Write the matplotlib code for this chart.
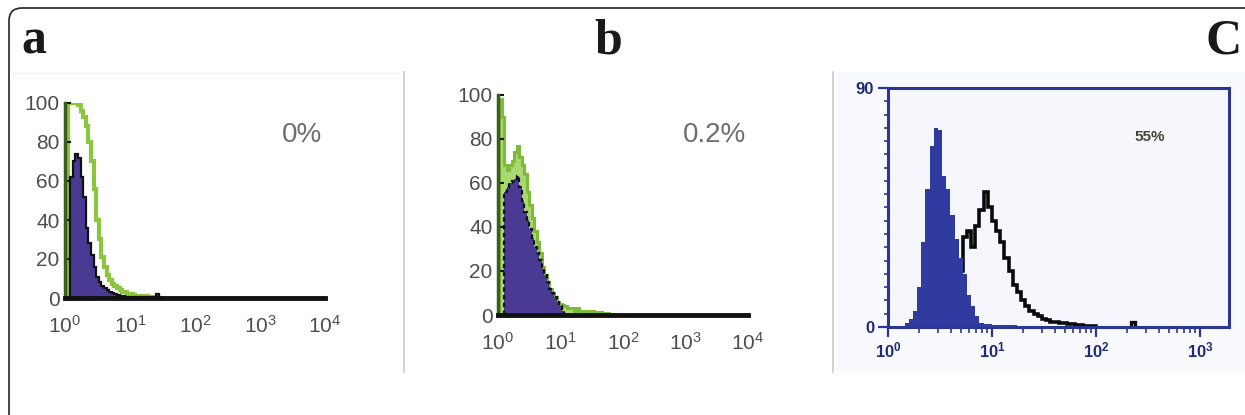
import numpy as np
import matplotlib
matplotlib.use('Agg')
import matplotlib.pyplot as plt
from matplotlib.patches import FancyBboxPatch, Rectangle
from matplotlib.lines import Line2D
from matplotlib.transforms import IdentityTransform
from matplotlib.ticker import FixedLocator, LogLocator, NullFormatter

plt.rcParams['font.family'] = ['Liberation Sans', 'DejaVu Sans']
plt.rcParams['mathtext.fontset'] = 'custom'
plt.rcParams['mathtext.rm'] = 'Liberation Sans'
plt.rcParams['mathtext.bf'] = 'Liberation Sans:bold'

# histogram bins are BW decades wide, each series starts at its own log10 position
BW = 0.04

# panel a (0%)
a_green_start = 0.04
a_green = [100, 100, 100, 100, 99, 96, 93, 88, 80, 70, 56, 40, 30, 21, 16, 12, 9,
           7, 6, 5, 4, 3, 3, 2, 2, 1.5, 1, 1, 1, 0.8, 0.8, 0.6, 0.6, 0.5]
a_purple_start = 0.08
a_purple = [62, 70, 74, 72, 62, 52, 36, 28, 22, 16, 11, 8, 6, 5, 4, 3, 2.5, 2,
            1.5, 1, 1, 0.5, 0.5, 0.3, 0.3, 0.3, 0.3, 0.3, 0.3, 0.3, 0.3, 0.3,
            0.3, 2, 0.3]

# panel b (0.2%)
b_green_start = 0.02
b_green = [98, 90, 68, 66, 68, 70, 74, 77, 72, 68, 64, 56, 50, 44, 38, 33, 28,
           22, 18, 15, 12, 10, 8, 6, 5, 4.5, 4, 3, 3, 3, 2, 3, 2, 2, 2, 2, 1.5,
           2, 1.5, 1, 1.5, 1, 1, 1, 0.5]
b_purple_start = 0.10
b_purple = [56, 58, 60, 61, 62, 63, 58, 52, 47, 43, 39, 35, 31, 28, 25, 21, 18,
            15, 12, 10, 8, 6, 4, 2]

# panel c (55%)
c_blue_start = 0.12
c_blue = [0.5, 1.5, 3, 6, 15, 32, 52, 68, 75, 74, 57, 52, 42, 33, 26, 20, 12, 8,
          4, 1.5, 1, 1, 0.8, 0.8, 0.8, 0.6, 0.6, 0.6, 0.5, 0.5]
c_black_start = 0.40
c_black = [1, 2, 3, 5, 8, 12, 16, 21, 34, 36, 30, 38, 44, 51, 45, 40, 36, 32, 26,
           21, 16, 13, 10, 8, 6, 5, 4, 3, 2.6, 2, 2, 1.5, 1.5, 1, 1, 0.8, 0.6,
           0.5, 0.3, 0.2]
c_blip_start = 2.34
c_blip = [2]

ab_yticks = [0, 20, 40, 60, 80, 100]
ab_xticks = [1, 10, 100, 1000, 10000]
ab_xlabels = [r'$\mathregular{10^{%d}}$' % i for i in range(5)]
c_xticks = [1, 10, 100, 1000]
c_xlabels = [r'$\mathbf{10^{%d}}$' % i for i in range(4)]


def edges(start, vals):
    return 10 ** (start + BW * np.arange(len(vals) + 1))


W, H = 1245, 415
fig = plt.figure(figsize=(W / 100, H / 100), dpi=100)

# outer rounded frame (runs off the right and bottom edge)
frame = FancyBboxPatch((9, -60), 1260, H - 8 + 60,
                       boxstyle='round,pad=0,rounding_size=13',
                       transform=IdentityTransform(), fill=False,
                       lw=1.2, ec='#222222')
fig.add_artist(frame)

# pale background behind panel c
fig.add_artist(Rectangle((836, H - 372), 409, 300, transform=IdentityTransform(),
                         fc='#f9fafe', ec='none', zorder=0))

# separators
for xs in (404, 833):
    fig.add_artist(Line2D([xs, xs], [H - 72, H - 372], transform=IdentityTransform(),
                          color='#c9c9c9', lw=1.2))
fig.add_artist(Line2D([11, 400], [H - 73, H - 73], transform=IdentityTransform(),
                      color='#f0f0f0', lw=1))

# panel letters
for txt, xp in (('a', 21), ('b', 594), ('C', 1206)):
    fig.text(xp / W, 1 - 53 / H, txt, family='Liberation Serif', weight='bold',
             fontsize=36, color='#1a1a1a', ha='left', va='baseline')


def style_ab(ax):
    ax.set_xscale('log')
    ax.set_xlim(1, 1e4)
    ax.set_ylim(0, 100)
    for s in ('top', 'right'):
        ax.spines[s].set_visible(False)
    ax.spines['left'].set_color('#3b5e1f')
    ax.spines['left'].set_linewidth(2.5)
    ax.spines['bottom'].set_color('#111111')
    ax.spines['bottom'].set_linewidth(3.5)
    ax.xaxis.set_major_locator(FixedLocator(ab_xticks))
    ax.xaxis.set_minor_locator(FixedLocator([]))
    ax.set_xticklabels(ab_xlabels)
    ax.set_yticks(ab_yticks)
    ax.tick_params(axis='y', direction='in', length=4, width=1.5, color='#111111',
                   labelsize=15, labelcolor='#4d4d4d', pad=4)
    ax.tick_params(axis='x', length=0, labelsize=15, labelcolor='#4d4d4d', pad=12)
    ax.patch.set_alpha(0)
    return ax


# panel a
ax_a = style_ab(fig.add_axes([65 / W, 1 - 298 / H, 260 / W, 195 / H]))
ax_a.stairs(a_purple, edges(a_purple_start, a_purple), fill=True, color='#4a3a94',
            zorder=2)
ax_a.stairs(a_purple, edges(a_purple_start, a_purple), color='#111111', lw=1.6,
            baseline=0, zorder=3)
ax_a.stairs(a_green, edges(a_green_start, a_green), color='#8cc63f', lw=3,
            baseline=0, zorder=1)
ax_a.text(0.91, 0.836, '0%', transform=ax_a.transAxes, ha='center', va='center',
          fontsize=20, color='#6e6e6e')

# panel b
ax_b = style_ab(fig.add_axes([498 / W, 1 - 315 / H, 250 / W, 220 / H]))
ax_b.stairs(b_green, edges(b_green_start, b_green), fill=True, color='#a9d86f',
            zorder=1)
ax_b.stairs(b_green, edges(b_green_start, b_green), color='#7dbb3a', lw=2.2,
            baseline=0, zorder=1)
ax_b.stairs(b_purple, edges(b_purple_start, b_purple), fill=True, color='#4a3a94',
            zorder=2)
ax_b.stairs(b_purple, edges(b_purple_start, b_purple), color='#111111', lw=1.6,
            ls=(0, (2, 1.5)), baseline=0, zorder=3)
ax_b.text(0.868, 0.818, '0.2%', transform=ax_b.transAxes, ha='center',
          va='center', fontsize=20, color='#6e6e6e')

# panel c
blue = '#2b3592'
ax_c = fig.add_axes([888 / W, 1 - 327 / H, 341 / W, 239 / H])
ax_c.set_xscale('log')
ax_c.set_xlim(1, 10 ** 3.28)
ax_c.set_ylim(0, 90)
ax_c.set_facecolor('#f6f7fc')
for s in ax_c.spines.values():
    s.set_color(blue)
    s.set_linewidth(2.2)
ax_c.stairs(c_black, edges(c_black_start, c_black), color='#0a0a0a', lw=2.6,
            baseline=0, zorder=2)
ax_c.stairs(c_blip, edges(c_blip_start, c_blip), color='#0a0a0a', lw=2.4,
            baseline=0, zorder=2)
ax_c.stairs(c_blue, edges(c_blue_start, c_blue), fill=True, color='#2f3b9e',
            zorder=3)
ax_c.xaxis.set_major_locator(FixedLocator(c_xticks))
ax_c.xaxis.set_minor_locator(LogLocator(base=10, subs=np.arange(2, 10)))
ax_c.xaxis.set_minor_formatter(NullFormatter())
ax_c.set_xticklabels(c_xlabels)
ax_c.set_yticks([0, 90])
ax_c.set_yticklabels(['0', '90'], fontweight='bold')
ax_c.yaxis.set_minor_locator(FixedLocator(np.arange(5, 90, 5)))
ax_c.tick_params(which='major', direction='out', length=7, width=1.6, color=blue,
                 labelsize=12, labelcolor='#1f2a7a', pad=3)
ax_c.tick_params(which='minor', direction='out', length=4, width=1.2, color=blue)
ax_c.tick_params(axis='y', which='minor', length=3)
ax_c.text(0.768, 0.795, '55%', transform=ax_c.transAxes, ha='center', va='center',
          fontsize=11, fontweight='bold', color='#4a4233')

fig.savefig('out.png', dpi=100)
